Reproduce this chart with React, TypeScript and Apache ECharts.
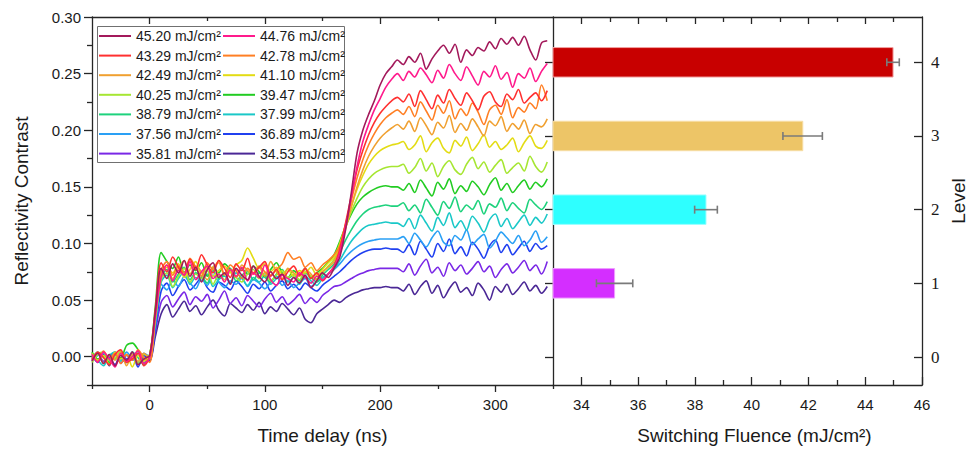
import React, { useEffect, useRef } from 'react';
import * as echarts from 'echarts';

// ---------- data ----------
const timeNs = [
  -50, -45, -40, -35, -30, -25, -20, -15, -10, -5, 0, 5, 10, 15, 20, 25, 30, 35, 40, 45,
  50, 55, 60, 65, 70, 75, 80, 85, 90, 95, 100, 105, 110, 115, 120, 125, 130, 135, 140, 145,
  150, 155, 160, 165, 170, 175, 180, 185, 190, 195, 200, 205, 210, 215, 220, 225, 230, 235, 240, 245,
  250, 255, 260, 265, 270, 275, 280, 285, 290, 295, 300, 305, 310, 315, 320, 325, 330, 335, 340, 345,
];

const fluenceLabels = ['45.20', '44.76', '43.29', '42.78', '42.49', '41.10', '40.25', '39.47', '38.79', '37.99', '37.56', '36.89', '35.81', '34.53'];

const rc4520 = [
  -0.004, 0.003, -0.006, 0.002, -0.008, 0.001, -0.003, 0.004, -0.007, -0.002, 0.001,
  0.040,
  0.078, 0.069, 0.082, 0.074, 0.085, 0.071, 0.079, 0.066, 0.077, 0.083, 0.070, 0.074, 0.064, 0.078, 0.072, 0.068, 0.080, 0.071, 0.066, 0.075, 0.069, 0.073, 0.063, 0.070, 0.065, 0.072, 0.061, 0.067, 0.074, 0.070, 0.078,
  0.088, 0.112, 0.145, 0.180, 0.200, 0.214, 0.226, 0.240, 0.250, 0.256, 0.262,
  0.258, 0.265, 0.260, 0.268, 0.254, 0.263, 0.270, 0.275, 0.268, 0.276, 0.260, 0.271, 0.266, 0.273, 0.270, 0.278, 0.272, 0.281, 0.276, 0.282, 0.275, 0.283, 0.271, 0.262, 0.277, 0.279,
];
const rc4476 = [
  0.002, -0.005, 0.004, -0.002, -0.009, 0.003, -0.004, 0.000, 0.005, -0.006, -0.001,
  0.036,
  0.070, 0.081, 0.067, 0.076, 0.072, 0.084, 0.068, 0.075, 0.080, 0.069, 0.073, 0.066, 0.077, 0.071, 0.079, 0.067, 0.074, 0.070, 0.081, 0.068, 0.063, 0.072, 0.069, 0.066, 0.074, 0.070, 0.065, 0.071, 0.068, 0.073, 0.079,
  0.092, 0.115, 0.140, 0.168, 0.190, 0.205, 0.218, 0.228, 0.238, 0.245, 0.250,
  0.244, 0.252, 0.247, 0.255, 0.249, 0.242, 0.253, 0.246, 0.258, 0.250, 0.244, 0.256, 0.248, 0.240, 0.252, 0.247, 0.257, 0.245, 0.251, 0.238, 0.250, 0.246, 0.255, 0.243, 0.252, 0.259,
];
const rc4329 = [
  -0.003, 0.004, -0.001, -0.007, 0.002, 0.006, -0.005, -0.002, 0.003, -0.008, 0.000,
  0.042,
  0.083, 0.075, 0.088, 0.079, 0.072, 0.086, 0.077, 0.090, 0.081, 0.074, 0.085, 0.078, 0.070, 0.082, 0.076, 0.087, 0.073, 0.079, 0.084, 0.071, 0.077, 0.068, 0.075, 0.080, 0.072, 0.078, 0.069, 0.074, 0.067, 0.073, 0.080,
  0.095, 0.118, 0.142, 0.165, 0.182, 0.196, 0.207, 0.215, 0.221, 0.226, 0.229,
  0.225, 0.232, 0.221, 0.235, 0.227, 0.219, 0.231, 0.224, 0.236, 0.228, 0.222, 0.233, 0.226, 0.218, 0.230, 0.234, 0.225, 0.221, 0.232, 0.227, 0.236, 0.224, 0.229, 0.233, 0.226, 0.235,
];
const rc4278 = [
  0.001, -0.004, 0.005, -0.002, 0.003, -0.006, 0.002, -0.003, 0.006, -0.001, -0.005,
  0.038,
  0.076, 0.084, 0.072, 0.080, 0.074, 0.087, 0.079, 0.071, 0.083, 0.077, 0.085, 0.073, 0.081, 0.076, 0.069, 0.078, 0.074, 0.080, 0.075, 0.072, 0.077, 0.082, 0.092, 0.086, 0.088, 0.079, 0.083, 0.076, 0.081, 0.085, 0.090,
  0.098, 0.117, 0.138, 0.158, 0.174, 0.187, 0.197, 0.205, 0.211, 0.215, 0.218,
  0.214, 0.221, 0.212, 0.225, 0.217, 0.209, 0.222, 0.215, 0.226, 0.210, 0.219, 0.213, 0.224, 0.216, 0.205, 0.218, 0.222, 0.214, 0.227, 0.211, 0.220, 0.216, 0.224, 0.219, 0.240, 0.226,
];
const rc4249 = [
  -0.002, 0.003, -0.006, 0.001, -0.003, 0.004, -0.008, 0.002, -0.004, 0.003, -0.002,
  0.035,
  0.074, 0.081, 0.069, 0.078, 0.085, 0.073, 0.080, 0.075, 0.068, 0.079, 0.083, 0.072, 0.077, 0.070, 0.081, 0.076, 0.073, 0.079, 0.071, 0.084, 0.075, 0.069, 0.078, 0.074, 0.071, 0.077, 0.073, 0.068, 0.075, 0.079, 0.084,
  0.096, 0.113, 0.132, 0.150, 0.165, 0.177, 0.186, 0.193, 0.198, 0.202, 0.205,
  0.201, 0.208, 0.199, 0.211, 0.204, 0.196, 0.207, 0.202, 0.213, 0.198, 0.206, 0.200, 0.210, 0.203, 0.195, 0.208, 0.204, 0.212, 0.199, 0.206, 0.201, 0.209, 0.197, 0.205, 0.203, 0.210,
];
const rc4110 = [
  0.003, -0.003, 0.001, -0.007, 0.004, -0.002, 0.002, -0.009, 0.001, -0.004, 0.002,
  0.037,
  0.072, 0.079, 0.074, 0.082, 0.070, 0.077, 0.084, 0.073, 0.079, 0.071, 0.076, 0.080, 0.074, 0.081, 0.085, 0.096, 0.087, 0.078, 0.082, 0.075, 0.079, 0.073, 0.077, 0.071, 0.076, 0.074, 0.079, 0.072, 0.077, 0.083, 0.088,
  0.100, 0.116, 0.133, 0.148, 0.160, 0.170, 0.177, 0.182, 0.185, 0.187, 0.188,
  0.190, 0.183, 0.187, 0.195, 0.181, 0.189, 0.193, 0.184, 0.180, 0.191, 0.186, 0.194, 0.182, 0.188, 0.196, 0.185, 0.190, 0.183, 0.187, 0.193, 0.181, 0.189, 0.195, 0.186, 0.184, 0.191,
];
const rc4025 = [
  -0.005, 0.002, 0.004, -0.003, -0.001, 0.005, -0.004, 0.001, -0.006, 0.002, 0.000,
  0.033,
  0.068, 0.074, 0.062, 0.071, 0.078, 0.066, 0.073, 0.069, 0.076, 0.064, 0.072, 0.068, 0.075, 0.070, 0.066, 0.073, 0.077, 0.069, 0.074, 0.067, 0.072, 0.076, 0.070, 0.073, 0.068, 0.075, 0.071, 0.069, 0.074, 0.080, 0.086,
  0.098, 0.114, 0.128, 0.140, 0.150, 0.157, 0.162, 0.165, 0.167, 0.168, 0.168,
  0.170, 0.162, 0.167, 0.175, 0.164, 0.171, 0.159, 0.168, 0.173, 0.165, 0.161, 0.170, 0.176, 0.166, 0.172, 0.163, 0.169, 0.174, 0.162, 0.167, 0.171, 0.164, 0.177, 0.168, 0.163, 0.172,
];
const rc3947 = [
  0.004, -0.002, 0.001, -0.005, 0.003, -0.001, 0.010, 0.012, 0.006, -0.003, 0.001,
  0.045,
  0.092, 0.084, 0.078, 0.088, 0.074, 0.081, 0.076, 0.083, 0.071, 0.079, 0.074, 0.082, 0.077, 0.070, 0.078, 0.073, 0.080, 0.075, 0.071, 0.077, 0.083, 0.074, 0.070, 0.076, 0.072, 0.078, 0.069, 0.074, 0.078, 0.084, 0.090,
  0.102, 0.115, 0.126, 0.135, 0.141, 0.145, 0.148, 0.150, 0.151, 0.150, 0.150,
  0.147, 0.153, 0.145, 0.156, 0.149, 0.142, 0.154, 0.148, 0.157, 0.144, 0.151, 0.146, 0.155, 0.150, 0.143, 0.152, 0.158, 0.147, 0.153, 0.145, 0.151, 0.156, 0.148, 0.154, 0.150, 0.157,
];
const rc3879 = [
  -0.001, 0.004, -0.006, 0.002, -0.002, 0.003, -0.005, 0.004, -0.001, -0.007, 0.002,
  0.034,
  0.070, 0.077, 0.066, 0.073, 0.079, 0.068, 0.074, 0.071, 0.065, 0.076, 0.069, 0.073, 0.078, 0.067, 0.072, 0.075, 0.068, 0.074, 0.070, 0.066, 0.073, 0.077, 0.069, 0.072, 0.067, 0.074, 0.070, 0.066, 0.072, 0.077, 0.082,
  0.092, 0.103, 0.112, 0.120, 0.126, 0.130, 0.132, 0.133, 0.134, 0.133, 0.133,
  0.136, 0.129, 0.134, 0.127, 0.139, 0.132, 0.125, 0.137, 0.131, 0.141, 0.128, 0.134, 0.130, 0.138, 0.126, 0.135, 0.132, 0.140, 0.129, 0.136, 0.131, 0.127, 0.139, 0.134, 0.130, 0.137,
];
const rc3799 = [
  0.002, -0.003, -0.008, 0.001, 0.004, -0.004, 0.002, -0.002, 0.005, -0.006, -0.001,
  0.030,
  0.066, 0.072, 0.061, 0.069, 0.075, 0.064, 0.070, 0.067, 0.073, 0.062, 0.068, 0.071, 0.065, 0.074, 0.069, 0.063, 0.070, 0.066, 0.072, 0.064, 0.069, 0.073, 0.066, 0.070, 0.064, 0.071, 0.067, 0.063, 0.069, 0.073, 0.077,
  0.085, 0.094, 0.102, 0.108, 0.113, 0.116, 0.117, 0.118, 0.119, 0.118, 0.118,
  0.115, 0.122, 0.113, 0.125, 0.118, 0.111, 0.123, 0.116, 0.127, 0.114, 0.120, 0.112, 0.124, 0.118, 0.110, 0.121, 0.126, 0.115, 0.122, 0.113, 0.119, 0.125, 0.116, 0.123, 0.118, 0.126,
];
const rc3756 = [
  -0.004, 0.001, 0.003, -0.006, 0.002, -0.003, 0.004, -0.002, -0.005, 0.003, 0.000,
  0.028,
  0.064, 0.059, 0.068, 0.062, 0.071, 0.065, 0.060, 0.069, 0.063, 0.072, 0.066, 0.061, 0.067, 0.064, 0.070, 0.062, 0.068, 0.065, 0.060, 0.066, 0.071, 0.063, 0.067, 0.061, 0.065, 0.069, 0.062, 0.066, 0.070, 0.073, 0.077,
  0.082, 0.088, 0.093, 0.097, 0.100, 0.102, 0.103, 0.104, 0.104, 0.104, 0.104,
  0.106, 0.100, 0.109, 0.103, 0.097, 0.105, 0.111, 0.101, 0.098, 0.107, 0.103, 0.112, 0.099, 0.104, 0.108, 0.096, 0.102, 0.110, 0.105, 0.100, 0.107, 0.098, 0.103, 0.111, 0.101, 0.106,
];
const rc3689 = [
  0.001, -0.005, 0.002, -0.001, -0.007, 0.003, -0.002, 0.001, -0.009, 0.002, -0.003,
  0.025,
  0.058, 0.065, 0.054, 0.062, 0.068, 0.059, 0.064, 0.070, 0.061, 0.057, 0.066, 0.063, 0.059, 0.067, 0.062, 0.056, 0.064, 0.060, 0.066, 0.058, 0.063, 0.067, 0.060, 0.064, 0.059, 0.065, 0.061, 0.058, 0.063, 0.067, 0.071,
  0.075, 0.080, 0.085, 0.089, 0.092, 0.094, 0.095, 0.095, 0.096, 0.095, 0.095,
  0.092, 0.099, 0.090, 0.102, 0.095, 0.088, 0.100, 0.093, 0.104, 0.091, 0.097, 0.089, 0.101, 0.095, 0.087, 0.098, 0.103, 0.092, 0.099, 0.090, 0.096, 0.102, 0.093, 0.100, 0.095, 0.098,
];
const rc3581 = [
  -0.002, 0.003, -0.004, 0.000, 0.004, -0.006, 0.001, -0.003, 0.003, -0.005, -0.001,
  0.022,
  0.048, 0.054, 0.044, 0.051, 0.057, 0.046, 0.053, 0.049, 0.055, 0.043, 0.050, 0.058, 0.047, 0.052, 0.045, 0.054, 0.049, 0.044, 0.051, 0.056, 0.048, 0.053, 0.046, 0.050, 0.055, 0.047, 0.052, 0.048, 0.054, 0.058, 0.062,
  0.063, 0.066, 0.069, 0.072, 0.074, 0.076, 0.077, 0.078, 0.078, 0.078, 0.078,
  0.075, 0.082, 0.072, 0.080, 0.086, 0.074, 0.079, 0.071, 0.083, 0.076, 0.081, 0.073, 0.078, 0.084, 0.075, 0.080, 0.070, 0.077, 0.082, 0.074, 0.079, 0.085, 0.076, 0.081, 0.073, 0.084,
];
const rc3453 = [
  0.003, -0.003, 0.001, -0.008, 0.002, -0.002, -0.005, 0.004, -0.006, 0.001, -0.004,
  0.018,
  0.038, 0.046, 0.035, 0.042, 0.049, 0.040, 0.045, 0.037, 0.044, 0.050, 0.041, 0.036, 0.047, 0.043, 0.039, 0.046, 0.041, 0.048, 0.038, 0.044, 0.040, 0.047, 0.042, 0.037, 0.043, 0.033, 0.030, 0.038, 0.042, 0.046, 0.050,
  0.048, 0.052, 0.055, 0.057, 0.059, 0.060, 0.061, 0.061, 0.062, 0.061, 0.061,
  0.058, 0.064, 0.055, 0.062, 0.067, 0.056, 0.063, 0.052, 0.060, 0.066, 0.057, 0.061, 0.054, 0.065, 0.059, 0.050, 0.062, 0.057, 0.064, 0.055, 0.060, 0.066, 0.058, 0.063, 0.056, 0.062,
];

const curves = [rc4520, rc4476, rc4329, rc4278, rc4249, rc4110, rc4025, rc3947, rc3879, rc3799, rc3756, rc3689, rc3581, rc3453];

const levels = [1, 2, 3, 4];
const switchingFluence = [35.17, 38.39, 41.8, 44.98];
const fluenceLow = [34.53, 37.99, 41.1, 44.76];
const fluenceHigh = [35.81, 38.79, 42.49, 45.2];

const timeTicks = [0, 100, 200, 300];
const timeMinorTicks = [-50, 50, 150, 250, 350];
const rcTicks = [0, 0.05, 0.1, 0.15, 0.2, 0.25, 0.3];
const rcMinorTicks = [-0.025, 0.025, 0.075, 0.125, 0.175, 0.225, 0.275];
const fluenceTicks = [34, 36, 38, 40, 42, 44, 46];
const fluenceTopTicks = [34, 36, 38, 40, 42, 44];
const fluenceMinorTicks = [35, 37, 39, 41, 43, 45];
const levelTicks = [0, 1, 2, 3, 4];

// ---------- styles ----------
const lineColors = ['#A3195B', '#FF1A8C', '#FF3030', '#FF7F24', '#F0A030', '#E3DC14', '#A6E632', '#22CC22', '#1ED27D', '#1AC8C8', '#2AA0F5', '#2040F0', '#7A28E6', '#4B2896'];
const barColors = ['#D42EFF', '#2EFFFF', '#EDC567', '#C80000'];
const barEdges = ['#EE9CFF', '#9CFFFF', '#F7DDA4', '#F2A0A0'];

const SANS = '"Liberation Sans", Arial, Helvetica, sans-serif';
const SERIF = '"Liberation Serif", "Times New Roman", serif';
const AX = { color: '#262626', width: 1.3 };

function axis(extra: any) {
  return {
    type: 'value',
    splitLine: { show: false },
    axisLine: { show: false, onZero: false, lineStyle: AX },
    axisLabel: { show: false },
    ...extra,
  };
}
function ticks(values: number[], length: number, inside: boolean) {
  return { show: true, inside, length, customValues: values, lineStyle: AX };
}
const tickLabel = { color: '#1a1a1a', fontSize: 15, fontFamily: SANS };
const nameStyle = { color: '#1a1a1a', fontSize: 19, fontFamily: SANS };

export default function App() {
  const ref = useRef<HTMLDivElement>(null);
  useEffect(() => {
    if (!ref.current) return;
    const chart = echarts.init(ref.current, null, { renderer: 'svg' });
    const names = fluenceLabels.map((f) => `${f} mJ/cm²`);
    const lineSeries = curves
      .map((vals, i) => ({
        type: 'line',
        name: names[i],
        xAxisIndex: 0,
        yAxisIndex: 0,
        data: timeNs.map((t, k) => [t, vals[k]]),
        symbol: 'none',
        showSymbol: false,
        smooth: 0.3,
        lineStyle: { width: 1.6, color: lineColors[i] },
        itemStyle: { color: lineColors[i] },
      }))
      .reverse();

    const legendBase = {
      orient: 'vertical',
      top: 29,
      icon: 'rect',
      itemGap: 5.6,
      itemWidth: 32,
      itemHeight: 2,
      padding: 0,
      selectedMode: false,
      textStyle: { fontSize: 14, lineHeight: 14, color: '#1a1a1a', fontFamily: SANS },
    };

    chart.setOption({
      animation: false,
      backgroundColor: '#ffffff',
      grid: [
        { left: 92, top: 17, width: 461, height: 372 },
        { left: 553, top: 17, width: 372, height: 372 },
      ],
      legend: [
        { ...legendBase, left: 99, data: names.filter((_, i) => i % 2 === 0) },
        { ...legendBase, left: 223, data: names.filter((_, i) => i % 2 === 1) },
      ],
      graphic: [
        {
          type: 'rect',
          shape: { x: 97.5, y: 26.5, width: 247, height: 136 },
          style: { fill: 'rgba(0,0,0,0)', stroke: '#707070', lineWidth: 1 },
          silent: true,
        },
      ],
      xAxis: [
        axis({
          gridIndex: 0, position: 'bottom', min: -50, max: 350,
          axisLine: { show: true, onZero: false, lineStyle: AX },
          axisTick: ticks(timeTicks, 7, false),
          axisLabel: { show: true, customValues: timeTicks, margin: 12, ...tickLabel },
          name: 'Time delay (ns)', nameLocation: 'middle', nameGap: 41, nameTextStyle: nameStyle,
        }),
        axis({ gridIndex: 0, position: 'bottom', min: -50, max: 350, axisTick: ticks(timeMinorTicks, 4, false) }),
        axis({
          gridIndex: 0, position: 'top', min: -50, max: 350,
          axisLine: { show: true, onZero: false, lineStyle: AX },
          axisTick: ticks(timeTicks, 7, true),
        }),
        axis({ gridIndex: 0, position: 'top', min: -50, max: 350, axisTick: ticks([50, 150, 250], 4, true) }),
        axis({
          gridIndex: 1, position: 'bottom', min: 33, max: 46,
          axisLine: { show: true, onZero: false, lineStyle: AX },
          axisTick: ticks(fluenceTicks, 8, true),
          axisLabel: { show: true, customValues: fluenceTicks, margin: 12, ...tickLabel },
          name: 'Switching Fluence (mJ/cm²)', nameLocation: 'middle', nameGap: 41,
          nameTextStyle: { ...nameStyle, padding: [0, 0, 0, 34] },
        }),
        axis({ gridIndex: 1, position: 'bottom', min: 33, max: 46, axisTick: ticks(fluenceMinorTicks, 5, true) }),
        axis({
          gridIndex: 1, position: 'top', min: 33, max: 46,
          axisLine: { show: true, onZero: false, lineStyle: AX },
          axisTick: ticks(fluenceTopTicks, 7, true),
        }),
        axis({ gridIndex: 1, position: 'top', min: 33, max: 46, axisTick: ticks(fluenceMinorTicks, 5, true) }),
      ],
      yAxis: [
        axis({
          gridIndex: 0, position: 'left', min: -0.025, max: 0.3,
          axisLine: { show: true, onZero: false, lineStyle: AX },
          axisTick: ticks(rcTicks, 8, false),
          axisLabel: {
            show: true, customValues: rcTicks, margin: 11, ...tickLabel,
            formatter: (v: number) => v.toFixed(2),
          },
          name: 'Reflectivity Contrast', nameLocation: 'middle', nameGap: 61, nameRotate: 90,
          nameTextStyle: nameStyle,
        }),
        axis({ gridIndex: 0, position: 'left', min: -0.025, max: 0.3, axisTick: ticks(rcMinorTicks, 5, false) }),
        axis({
          gridIndex: 1, position: 'right', min: -0.38, max: 4.615,
          axisLine: { show: true, onZero: false, lineStyle: AX },
          axisTick: ticks(levelTicks, 8, true),
          axisLabel: {
            show: true, customValues: levelTicks, margin: 9,
            color: '#1a1a1a', fontSize: 17, fontFamily: SERIF,
          },
          name: 'Level', nameLocation: 'middle', nameGap: 27, nameRotate: 90,
          nameTextStyle: nameStyle,
        }),
        axis({
          gridIndex: 1, position: 'left', min: -0.38, max: 4.615,
          axisLine: { show: true, onZero: false, lineStyle: AX },
          axisTick: ticks(levelTicks, 8, false),
        }),
      ],
      series: [
        ...lineSeries,
        {
          type: 'custom',
          xAxisIndex: 4,
          yAxisIndex: 2,
          clip: false,
          encode: { x: [0, 2, 3], y: 1 },
          data: levels.map((l, i) => [switchingFluence[i], l, fluenceLow[i], fluenceHigh[i]]),
          renderItem: (params: any, api: any) => {
            const v = api.value(0);
            const lvl = api.value(1);
            const lo = api.value(2);
            const hi = api.value(3);
            const start = api.coord([33, lvl]);
            const end = api.coord([v, lvl]);
            const h = api.size([0, 0.4])[1];
            const pl = api.coord([lo, lvl]);
            const ph = api.coord([hi, lvl]);
            const idx = params.dataIndex;
            const eb = { stroke: '#7a7a7a', lineWidth: 1.6 };
            return {
              type: 'group',
              children: [
                {
                  type: 'rect',
                  shape: { x: start[0], y: start[1] - h / 2, width: end[0] - start[0], height: h },
                  style: { fill: barColors[idx], stroke: barEdges[idx], lineWidth: 1 },
                },
                { type: 'line', shape: { x1: pl[0], y1: pl[1], x2: ph[0], y2: ph[1] }, style: eb },
                { type: 'line', shape: { x1: pl[0], y1: pl[1] - 4, x2: pl[0], y2: pl[1] + 4 }, style: eb },
                { type: 'line', shape: { x1: ph[0], y1: ph[1] - 4, x2: ph[0], y2: ph[1] + 4 }, style: eb },
              ],
            };
          },
        },
      ],
    });
    return () => chart.dispose();
  }, []);

  return (
    <div
      ref={ref}
      style={{ position: 'fixed', left: 0, top: 0, width: 969, height: 450, background: '#fff' }}
    />
  );
}
